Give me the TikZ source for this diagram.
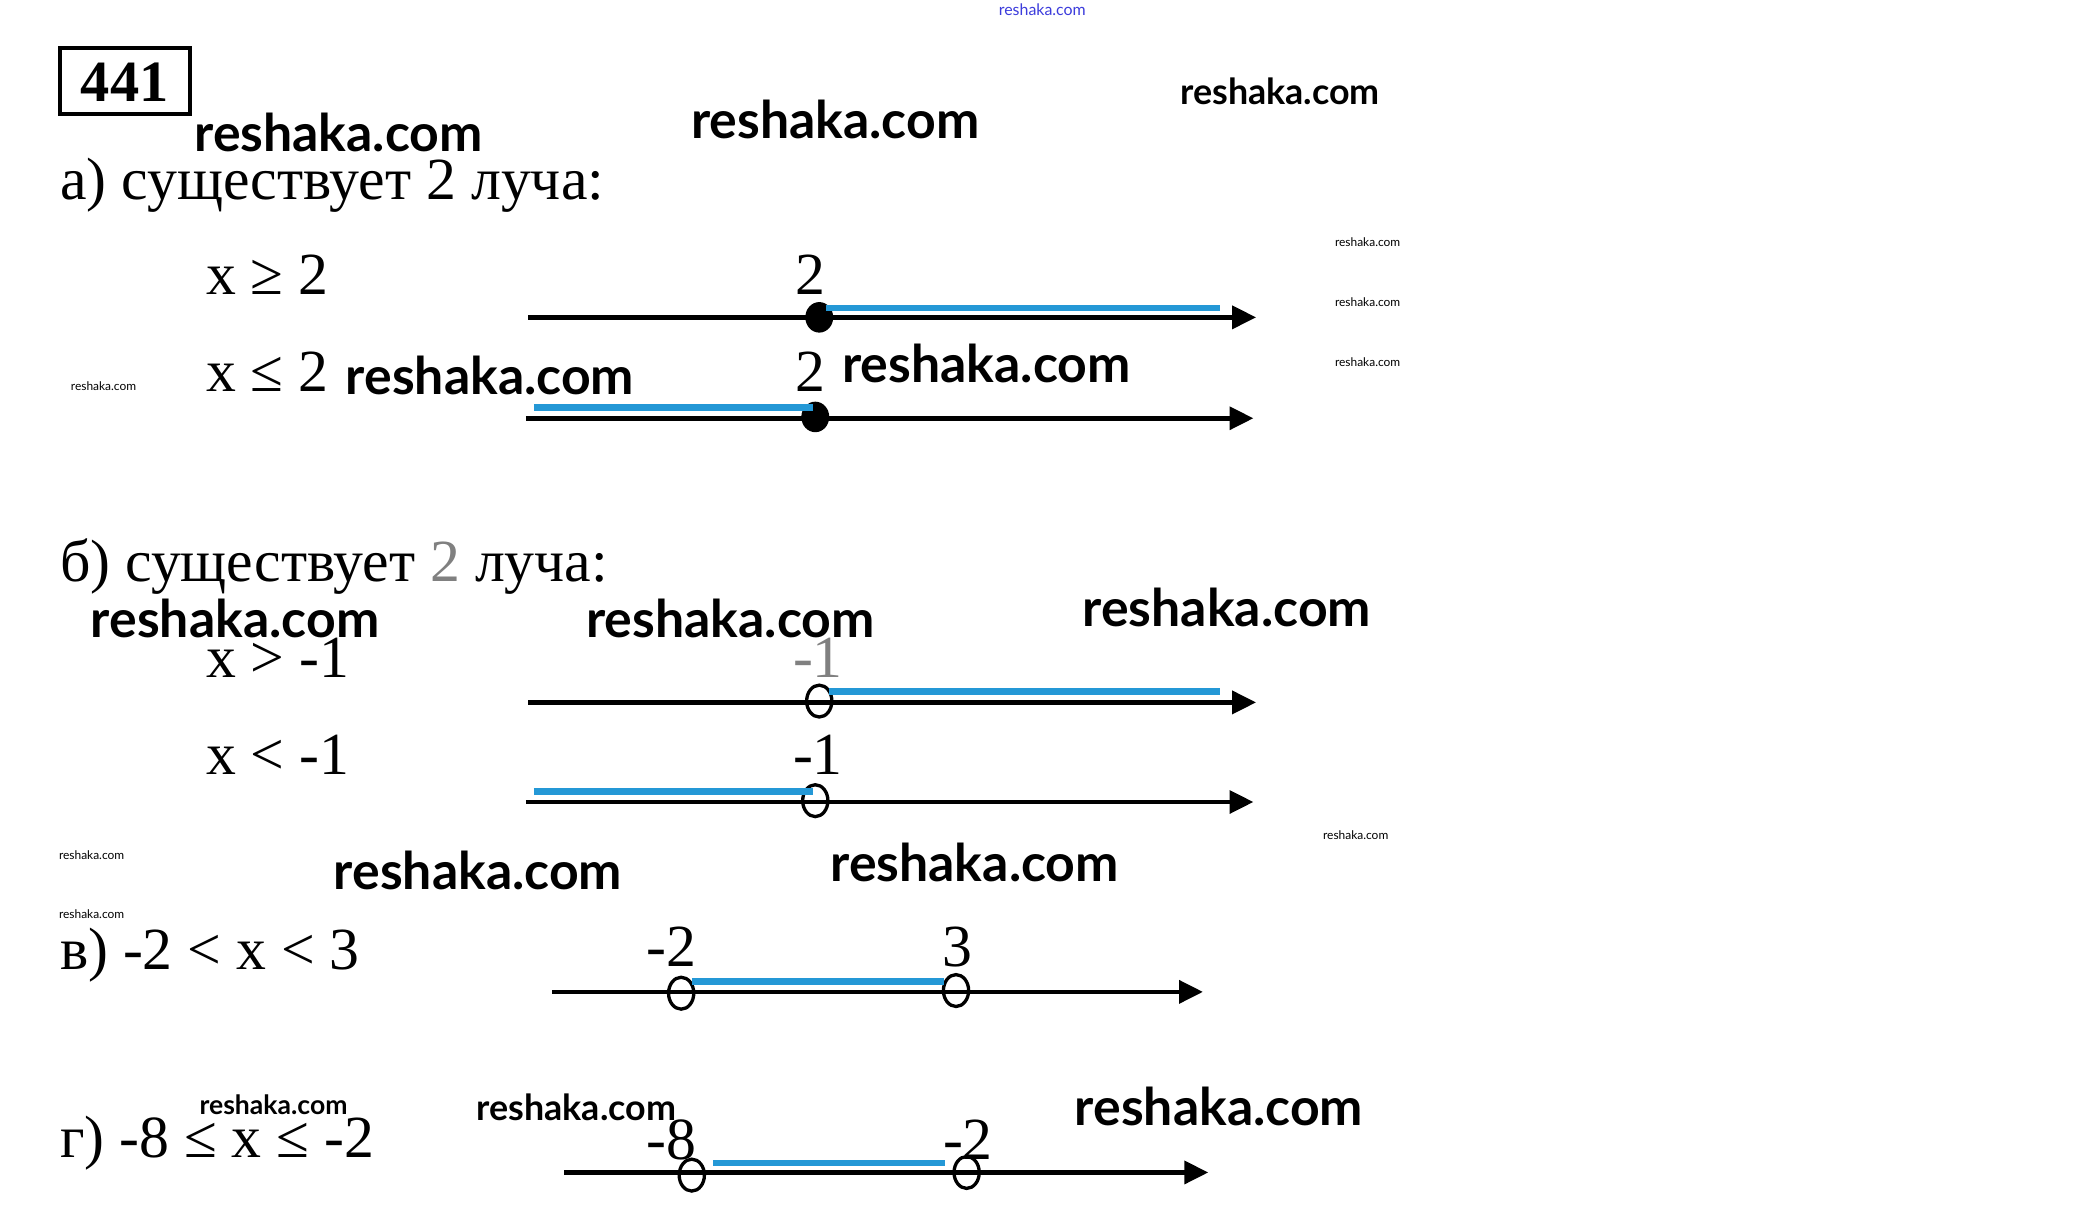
\documentclass[tikz,border=0pt]{standalone}
\usepackage{fontspec}
\setmainfont{Liberation Serif}
\newfontfamily\wmfont{Lato}
\usetikzlibrary{arrows.meta,shapes.geometric}
\definecolor{rayblue}{RGB}{36,152,214}
\definecolor{wmblue}{RGB}{60,60,220}
\begin{document}
\begin{tikzpicture}[x=1pt,y=-1pt,
  txt/.style={anchor=base west,inner sep=0pt,font=\fontsize{45}{50}\selectfont},
  lbl/.style={anchor=base,inner sep=0pt,font=\fontsize{45}{50}\selectfont},
  wm/.style={anchor=base,inner sep=0pt,font=\wmfont\bfseries\fontsize{39}{44}\selectfont},
  wmm/.style={anchor=base,inner sep=0pt,font=\wmfont\bfseries\fontsize{27}{30}\selectfont},
  wms/.style={anchor=base,inner sep=0pt,font=\wmfont\bfseries\fontsize{20}{24}\selectfont},
  wmt/.style={anchor=base,inner sep=0pt,font=\wmfont\fontsize{9}{11}\selectfont},
  axis/.style={line width=3.5pt,-{Triangle[length=18pt,width=17pt]}},
  ray/.style={line width=5pt,draw=rayblue},
  fulldot/.style={ellipse,fill=black,minimum width=21pt,minimum height=23pt,inner sep=0pt},
  opendot/.style={ellipse,draw=black,line width=2.5pt,minimum width=19pt,minimum height=24pt,inner sep=0pt}
]
\useasboundingbox[fill=white] (0,0) rectangle (1568,918);

% header
\node[draw,line width=3pt,minimum width=98pt,minimum height=50pt,inner sep=0pt] (box) at (94,61) {};
\node[inner sep=0pt,font=\bfseries\fontsize{44}{48}\selectfont] (num) at (94,62) {441};
\node[anchor=base,inner sep=0pt,font=\wmfont\fontsize{12}{14}\selectfont,text=wmblue] (wtop) at (785,12) {reshaka.com};

% watermarks
\node[wm] (w1) at (255,114) {reshaka.com};
\node[wm] (w2) at (629,104) {reshaka.com};
\node[wmm] (w3) at (964,79) {reshaka.com};
\node[wm] (w4) at (369,297) {reshaka.com};
\node[wm] (w5) at (743,288) {reshaka.com};
\node[wm] (w6) at (177,480) {reshaka.com};
\node[wm] (w7) at (550,480) {reshaka.com};
\node[wm] (w8) at (924,472) {reshaka.com};
\node[wm] (w9) at (360,670) {reshaka.com};
\node[wm] (w10) at (734,664) {reshaka.com};
\node[wms] (w11) at (206,839) {reshaka.com};
\node[wmm] (w12) at (434,844) {reshaka.com};
\node[wm] (w13) at (918,848) {reshaka.com};
\node[wmt] (t1) at (1030,186) {reshaka.com};
\node[wmt] (t2) at (1030,231) {reshaka.com};
\node[wmt] (t3) at (1030,276) {reshaka.com};
\node[wmt] (t4) at (78,294) {reshaka.com};
\node[wmt] (t5) at (1021,632) {reshaka.com};
\node[wmt] (t6) at (69,647) {reshaka.com};
\node[wmt] (t7) at (69,692) {reshaka.com};

% part a
\node[txt] (ta) at (45,150) {а) существует 2 луча:};
\node[txt] (ia1) at (155,222) {x ≥ 2};
\node[txt] (ia2) at (155,295) {x ≤ 2};
\node[lbl] (la1) at (610,222) {2};
\node[lbl] (la2) at (610,295) {2};
\coordinate (a1s) at (398,239); \coordinate (a1e) at (946,239);
\draw[axis] (a1s) -- (a1e);
\node[fulldot] (d1) at (617,239) {};
\coordinate (r1s) at (622,232); \coordinate (r1e) at (919,232);
\draw[ray] (r1s) -- (r1e);
\coordinate (a2s) at (396,315); \coordinate (a2e) at (944,315);
\draw[axis] (a2s) -- (a2e);
\node[fulldot] (d2) at (614,314) {};
\coordinate (r2s) at (402,307); \coordinate (r2e) at (612,307);
\draw[ray] (r2s) -- (r2e);

% part b
\node[txt] (tb) at (45,438) {б) существует \textcolor{gray}{2} луча:};
\node[txt] (ib1) at (155,510) {x > -1};
\node[txt] (ib2) at (155,583) {x < -1};
\node[lbl,text=gray] (lb1) at (616,510) {-1};
\node[lbl] (lb2) at (616,583) {-1};
\coordinate (a3s) at (398,529); \coordinate (a3e) at (946,529);
\draw[axis] (a3s) -- (a3e);
\node[opendot] (o1) at (617,528) {};
\coordinate (r3s) at (624,521); \coordinate (r3e) at (919,521);
\draw[ray] (r3s) -- (r3e);
\coordinate (a4s) at (396,604); \coordinate (a4e) at (944,604);
\draw[axis] (a4s) -- (a4e);
\node[opendot] (o2) at (614,603) {};
\coordinate (r4s) at (402,596); \coordinate (r4e) at (612,596);
\draw[ray] (r4s) -- (r4e);

% part c
\node[txt] (tc) at (45,730) {в) -2 < x < 3};
\node[lbl] (lc1) at (506,728) {-2};
\node[lbl] (lc2) at (721,728) {3};
\coordinate (a5s) at (416,747); \coordinate (a5e) at (906,747);
\draw[axis] (a5s) -- (a5e);
\node[opendot] (o3) at (513,748) {};
\node[opendot] (o4) at (720,746) {};
\coordinate (r5s) at (521,739); \coordinate (r5e) at (711,739);
\draw[ray] (r5s) -- (r5e);

% part d
\node[txt] (td) at (45,872) {г) -8 ≤ x ≤ -2};
\node[lbl] (ld1) at (506,873) {-8};
\node[lbl] (ld2) at (729,873) {-2};
\coordinate (a6s) at (425,883); \coordinate (a6e) at (910,883);
\draw[axis] (a6s) -- (a6e);
\node[opendot] (o5) at (521,885) {};
\node[opendot] (o6) at (728,883) {};
\coordinate (r6s) at (537,876); \coordinate (r6e) at (712,876);
\draw[ray] (r6s) -- (r6e);
\end{tikzpicture}
\end{document}
